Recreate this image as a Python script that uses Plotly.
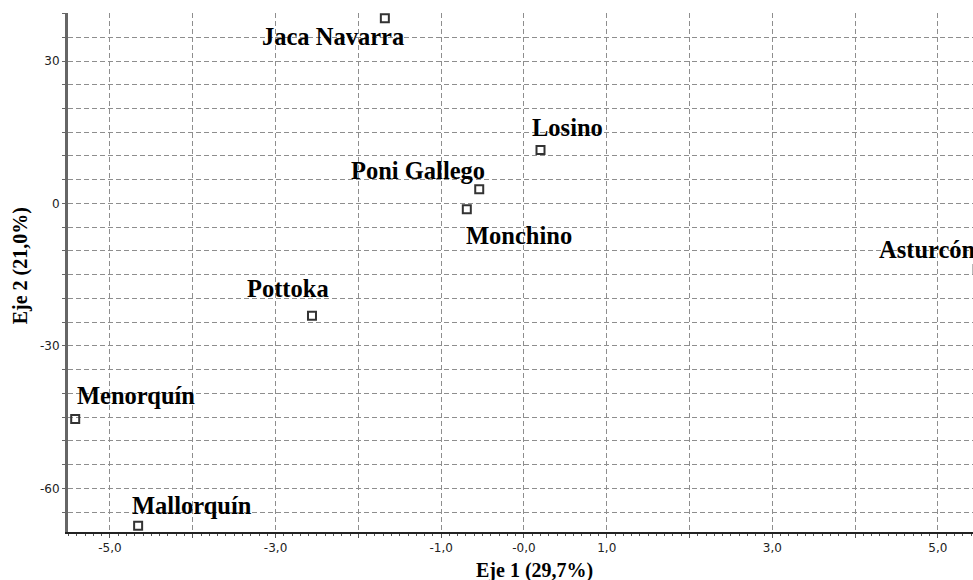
import plotly.graph_objects as go

# ---- data ----
breeds = ["Jaca Navarra", "Losino", "Poni Gallego", "Monchino", "Pottoka",
          "Menorquín", "Mallorquín", "Asturcón"]
eje1 = [-1.68, 0.20, -0.54, -0.69, -2.56, -5.42, -4.66, 5.48]
eje2 = [38.98, 11.25, 2.97, -1.24, -23.65, -45.4, -67.9, -13.8]

x_tick_vals = [-5, -4, -3, -2, -1, 0, 1, 2, 3, 4, 5]
x_tick_text = ["-5,0", "", "-3,0", "", "-1,0", "-0,0", "1,0", "", "3,0", "", "5,0"]
y_tick_vals = list(range(-65, 45, 5))
y_tick_text = [str(v) if v in (30, 0, -30, -60) else "" for v in y_tick_vals]

x_title = "Eje 1 (29,7%)"
y_title = "Eje 2 (21,0%)"

# ---- styles ----
# the original chart is wider than the 973 px window; its right edge is cropped
x_range = [-5.507, 5.75]
y_range = [-69.2, 40.11]
# label placement (pixel offsets from marker: dx right, dy up)
label_offsets = [(-52, -18), (27, 23), (-61, 19), (52, -26), (-24, 27),
                 (61, 24), (54, 20), (-50, 19)]
label_font = dict(family="Liberation Serif", size=24.5, color="#000000")

fig = go.Figure()
fig.add_trace(go.Scatter(
    x=eje1, y=eje2, mode="markers",
    marker=dict(symbol="square-open", size=8, color="#333333",
                line=dict(width=2, color="#333333")),
    hoverinfo="text", text=breeds, showlegend=False, cliponaxis=False,
))

for name, xv, yv, (dx, dy) in zip(breeds, eje1, eje2, label_offsets):
    fig.add_annotation(x=xv, y=yv, xref="x", yref="y", text="<b>%s</b>" % name,
                       showarrow=False, xshift=dx, yshift=dy,
                       xanchor="center", yanchor="middle", font=label_font)

title_font = dict(family="Liberation Serif", size=20, color="#000000")
fig.add_annotation(xref="paper", yref="paper", x=0.5, y=0, yshift=-38,
                   text="<b>%s</b>" % x_title, showarrow=False,
                   xanchor="center", yanchor="middle", font=title_font)
fig.add_annotation(xref="paper", yref="paper", x=0, xshift=-48, y=0.512,
                   text="<b>%s</b>" % y_title, showarrow=False, textangle=-90,
                   xanchor="center", yanchor="middle", font=title_font)

grid_color = "#8e8e8e"
fig.update_xaxes(
    range=x_range, tickmode="array", tickvals=x_tick_vals, ticktext=x_tick_text,
    showgrid=True, gridcolor=grid_color, griddash="5px,3px", gridwidth=1,
    ticks="outside", ticklen=4, tickcolor="#555555", tickwidth=1,
    showline=True, linecolor="#222222", linewidth=2, zeroline=False,
    tickfont=dict(family="DejaVu Sans", size=12, color="#222222"),
    minor=dict(dtick=0.1, ticks="outside", ticklen=2, tickcolor="#555555", showgrid=False),
)
fig.update_yaxes(
    range=y_range, tickmode="array", tickvals=y_tick_vals, ticktext=y_tick_text,
    showgrid=True, gridcolor=grid_color, griddash="5px,3px", gridwidth=1,
    ticks="outside", ticklen=3, tickcolor="#666666", tickwidth=1,
    showline=True, linecolor="#666666", linewidth=3, zeroline=False,
    tickfont=dict(family="DejaVu Sans", size=12, color="#222222"),
)

fig.update_layout(
    width=1000, height=580, autosize=False,
    margin=dict(l=68, r=0, t=13, b=48),
    plot_bgcolor="#ffffff", paper_bgcolor="#ffffff",
)

fig.write_html("out.html", config={"displayModeBar": False},
               post_script="document.body.style.margin='0';"
                           "document.body.style.overflow='hidden';")
